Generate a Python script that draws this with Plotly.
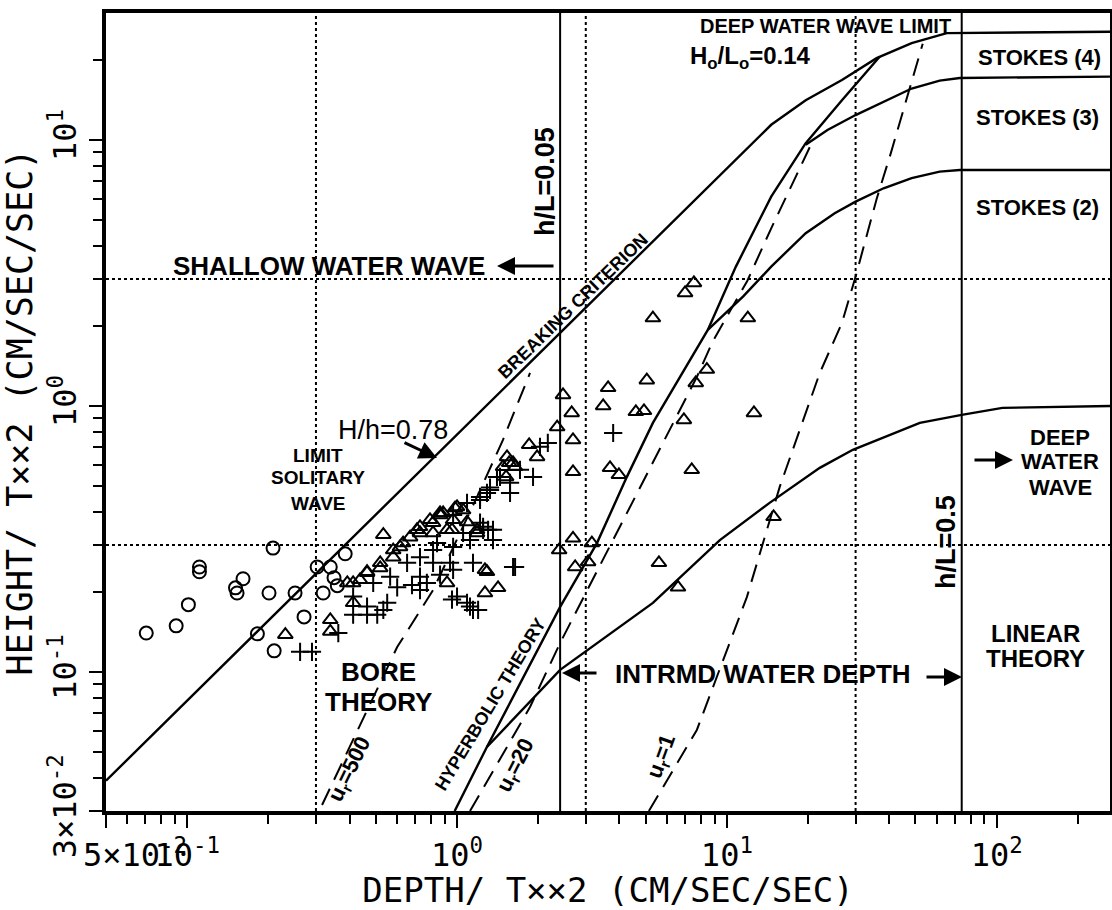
import math
import plotly.graph_objects as go

# ---------------- data ----------------
circle_x = [0.0705, 0.0910, 0.101, 0.111, 0.111, 0.151, 0.153, 0.161, 0.201, 0.208,
            0.251, 0.271, 0.182, 0.210, 0.303, 0.339, 0.385, 0.319, 0.360, 0.350]
circle_y = [0.140, 0.149, 0.179, 0.248, 0.238, 0.207, 0.198, 0.224, 0.198, 0.292,
            0.198, 0.161, 0.139, 0.120, 0.248, 0.248, 0.278, 0.198, 0.211, 0.226]

plus_x = [0.262, 0.290, 0.363, 0.412, 0.464, 0.506, 0.551, 0.600, 0.729, 1.0,
          1.089, 1.146, 1.613, 0.815, 0.942, 1.249, 1.359, 1.572, 1.291, 1.443,
          3.79, 2.17, 2.03, 1.913, 1.711, 1.325, 1.217, 1.641, 1.146, 0.958,
          1.117, 1.197, 1.303, 1.217, 1.053, 0.843, 0.729,
          1.406, 1.572, 1.325, 1.217, 1.089, 0.967, 1.249, 1.359, 1.117, 0.967,
          0.815, 0.729, 0.653, 0.565, 0.489, 0.412, 0.464, 0.533, 0.967, 0.865,
          0.773, 0.681]
plus_y = [0.119, 0.119, 0.140, 0.164, 0.164, 0.164, 0.182, 0.208, 0.203, 0.192,
          0.182, 0.171, 0.248, 0.257, 0.257, 0.342, 0.313, 0.471, 0.471, 0.541,
          0.791, 0.726, 0.702, 0.541, 0.575, 0.483, 0.443, 0.248, 0.257, 0.187,
          0.176, 0.171, 0.342, 0.364, 0.333, 0.305, 0.228,
          0.541, 0.514, 0.493, 0.455, 0.432, 0.389, 0.351, 0.342, 0.313, 0.295,
          0.287, 0.270, 0.257, 0.228, 0.216, 0.192, 0.176, 0.171, 0.242, 0.232,
          0.216, 0.212]

tri_x = [2.47, 2.66, 2.35, 2.69, 2.69, 3.63, 3.48, 5.05, 4.60, 4.93,
         8.43, 7.67, 6.93, 12.6, 3.69, 3.98, 7.41, 14.9, 2.69, 2.39,
         3.16, 3.06, 2.74, 5.60, 6.59, 1.85, 1.98, 1.56, 1.64, 1.52,
         0.983, 1.053, 0.865, 1.186, 0.958, 1.269, 0.918, 1.269, 1.419, 0.729,
         0.339, 0.231, 0.339, 0.533, 0.464, 0.519, 0.580, 0.631, 0.710, 0.815,
         0.888, 1.0, 1.186, 1.291, 0.412, 0.437, 0.392, 1.481, 1.613, 1.532,
         7.55, 7.0, 5.32, 11.96,
         0.615, 0.670, 0.729, 0.794, 0.865, 0.967, 1.089, 0.815, 0.918, 0.580,
         0.519, 0.464, 0.412]
tri_y = [1.10, 0.941, 0.833, 0.745, 0.565, 1.17, 1.0, 1.25, 0.95, 0.958,
         1.37, 1.22, 0.886, 0.941, 0.585, 0.551, 0.575, 0.383, 0.318, 0.287,
         0.305, 0.259, 0.248, 0.257, 0.208, 0.714, 0.643, 0.611, 0.590, 0.541,
         0.413, 0.406, 0.396, 0.342, 0.342, 0.242, 0.216, 0.198, 0.207, 0.333,
         0.157, 0.138, 0.142, 0.328, 0.238, 0.246, 0.287, 0.305, 0.342, 0.364,
         0.396, 0.417, 0.333, 0.238, 0.182, 0.222, 0.216, 0.590, 0.611, 0.643,
         2.90, 2.66, 2.14, 2.14,
         0.295, 0.321, 0.351, 0.373, 0.389, 0.373, 0.366, 0.333, 0.342, 0.270,
         0.257, 0.236, 0.216]

# solid theory curves
breaking_x = [0.05, 14.6, 19.6, 26.7, 35.9, 48.4, 65.3, 267]
breaking_y = [0.039, 11.4, 14.1, 16.8, 20.3, 23.1, 25.2, 25.5]

hyper_x = [0.98, 1.29, 2.41, 3.30, 4.26, 5.32, 8.5, 10.8, 14.6, 19.6, 26.7, 36.9]
hyper_y = [0.030, 0.0522, 0.1755, 0.305, 0.541, 0.863, 1.93, 3.34, 6.12, 9.72, 14.1, 20.6]

linear_x = [1.29, 2.41, 5.32, 9.42, 14.4, 22.1, 29.3, 51.9, 74.2, 105, 267]
linear_y = [0.0522, 0.1018, 0.1817, 0.313, 0.432, 0.585, 0.684, 0.863, 0.925, 0.983, 1.0]

stokes23_x = [8.5, 11.5, 14.6, 19.6, 25.1, 30.0, 38.1, 48.4, 61.5, 73, 267]
stokes23_y = [1.93, 2.58, 3.34, 4.46, 5.30, 5.86, 6.58, 7.18, 7.60, 7.71, 7.71]

stokes34_x = [19.6, 23.6, 30.0, 38.1, 48.4, 61.5, 73, 267]
stokes34_y = [9.6, 10.9, 12.4, 13.9, 15.6, 16.7, 17.1, 17.3]

# dashed Ursell-number lines
ur500_x = [0.316, 0.600, 0.815, 1.186, 1.48, 1.864]
ur500_y = [0.0316, 0.124, 0.203, 0.455, 0.745, 1.33]

ur20_x = [1.117, 1.864, 2.41, 3.47, 5.32, 7.74, 8.87, 11.9, 14.6, 18.5, 20.5]
ur20_y = [0.030, 0.0738, 0.1285, 0.264, 0.61, 1.285, 1.75, 2.95, 4.65, 7.7, 9.6]

ur1_x = [5.14, 7.74, 11.86, 15.7, 22.1, 26.7, 30.1, 35.9, 40.5, 47.2, 53.2]
ur1_y = [0.030, 0.0605, 0.191, 0.496, 1.33, 2.05, 3.1, 6.0, 8.9, 15.0, 23.0]

# reference lines
hL005_x = [2.41, 2.41]
hL05_x = [74.2, 74.2]
grid_x = [0.3, 3, 30]
grid_y = [0.3, 3]
full_y = [0.03, 30]
full_x = [0.05, 267]

NB = "\u00a0"
x_tickvals = [0.05, 0.1, 1, 10, 100]
x_ticktext = [NB * 3 + "5×10<sup>-2</sup>", "10<sup>-1</sup>", "10<sup>0</sup>",
              "10<sup>1</sup>", "10<sup>2</sup>"]
x_minor = [0.06, 0.07, 0.08, 0.09, 0.2, 0.3, 0.4, 0.5, 0.6, 0.7, 0.8, 0.9,
           2, 3, 4, 5, 6, 7, 8, 9, 20, 30, 40, 50, 60, 70, 80, 90, 200]
y_tickvals = [0.03, 0.1, 1, 10]
y_ticktext = ["3×10<sup>-2</sup>", "10<sup>-1</sup>", "10<sup>0</sup>", "10<sup>1</sup>"]
y_minor = [0.04, 0.05, 0.06, 0.07, 0.08, 0.09, 0.2, 0.3, 0.4, 0.5, 0.6, 0.7, 0.8, 0.9,
           2, 3, 4, 5, 6, 7, 8, 9, 20]

# ---------------- figure ----------------
W, H = 1112, 910
ML, MR, MT, MB = 106, 2, 13, 99
PW, PH = W - ML - MR, H - MT - MB

def P(px, py):
    return (px - ML) / PW, (MT + PH - py) / PH

fig = go.Figure()

def line(xs, ys, dash="solid", width=2.4):
    fig.add_trace(go.Scatter(x=xs, y=ys, mode="lines",
                             line=dict(color="black", width=width, dash=dash),
                             hoverinfo="skip", showlegend=False))

for gx in grid_x:
    line([gx, gx], full_y, dash="dot", width=2)
for gy in grid_y:
    line(full_x, [gy, gy], dash="dot", width=2)
line(hL005_x, full_y, width=2)
line(hL05_x, full_y, width=2)

line(breaking_x, breaking_y)
line(hyper_x, hyper_y)
line(linear_x, linear_y)
line(stokes23_x, stokes23_y)
line(stokes34_x, stokes34_y)
line(ur500_x, ur500_y, dash="18px,10px", width=2)
line(ur20_x, ur20_y, dash="18px,10px", width=2)
line(ur1_x, ur1_y, dash="18px,10px", width=2)

mk = dict(color="black", size=13, line=dict(color="black", width=2))
fig.add_trace(go.Scatter(x=circle_x, y=circle_y, mode="markers", showlegend=False,
                         marker=dict(symbol="circle-open", **mk)))
fig.add_trace(go.Scatter(x=tri_x, y=tri_y, mode="markers", showlegend=False,
                         marker=dict(symbol="triangle-up-open", **mk)))
fig.add_trace(go.Scatter(x=plus_x, y=plus_y, mode="markers", showlegend=False,
                         marker=dict(symbol="cross-thin-open", **mk)))

LAB = "Liberation Sans"
def label(text, px, py, size, angle=0, bold=True):
    x, y = P(px, py)
    fig.add_annotation(x=x, y=y, xref="paper", yref="paper", text=text, showarrow=False,
                       textangle=angle, xanchor="center", yanchor="middle",
                       font=dict(family=LAB, size=size, color="black",
                                 weight="bold" if bold else "normal"))

def arrow(hx, hy, tx, ty):
    x, y = P(hx, hy)
    fig.add_annotation(x=x, y=y, xref="paper", yref="paper", text="", showarrow=True,
                       ax=tx - hx, ay=ty - hy, arrowhead=2, arrowsize=1.2,
                       arrowwidth=3, arrowcolor="black")

label("SHALLOW WATER WAVE", 329, 266, 26)
arrow(497, 266, 555, 266)
label("h/L=0.05", 545, 182, 27, angle=-90)
label("BREAKING CRITERION", 573, 306, 18, angle=-44)
label("H/h=0.78", 393, 430, 27, bold=False)
arrow(437, 458, 403, 442)
label("LIMIT", 318, 455, 19)
label("SOLITARY", 318, 478, 19)
label("WAVE", 318, 503, 19)
label("BORE", 378, 672, 26)
label("THEORY", 378, 702, 26)
label("u<sub>r</sub>=500", 350, 770, 22, angle=-64)
label("HYPERBOLIC THEORY", 490, 705, 18, angle=-59)
label("u<sub>r</sub>=20", 516, 766, 22, angle=-63)
label("u<sub>r</sub>=1", 662, 757, 22, angle=-70)
label("INTRMD WATER DEPTH", 763, 674, 26)
arrow(562, 673, 598, 673)
arrow(962, 677, 925, 677)
label("DEEP", 1060, 437, 22)
label("WATER", 1060, 462, 22)
label("WAVE", 1060, 487, 22)
arrow(1013, 460, 973, 460)
label("h/L=0.5", 946, 542, 27, angle=-90)
label("LINEAR", 1035, 633, 24)
label("THEORY", 1035, 658, 24)
label("STOKES (4)", 1039, 57, 22)
label("STOKES (3)", 1037, 118, 22)
label("STOKES (2)", 1037, 207, 22)
label("DEEP WATER WAVE LIMIT", 825, 26, 20)
label("H<sub>o</sub>/L<sub>o</sub>=0.14", 750, 58, 24)

AX = "DejaVu Sans Mono"
axis_common = dict(type="log", showgrid=False, zeroline=False, showline=True,
                   linecolor="black", linewidth=4, mirror=True,
                   ticks="outside", ticklen=13, tickwidth=2, tickcolor="black",
                   tickfont=dict(family=AX, size=32, color="black"))

fig.update_layout(
    width=W, height=H, margin=dict(l=ML, r=MR, t=MT, b=MB, autoexpand=False),
    paper_bgcolor="white", plot_bgcolor="white",
    xaxis=dict(range=[math.log10(0.05), 2.42], tickmode="array",
               tickvals=x_tickvals, ticktext=x_ticktext, tickangle=0,
               minor=dict(tickmode="array", tickvals=x_minor, ticks="outside",
                          ticklen=9, tickwidth=2, tickcolor="black"),
               title=dict(text="DEPTH/ T××2 (CM/SEC/SEC)", standoff=8,
                          font=dict(family=AX, size=34, color="black")),
               **axis_common),
    yaxis=dict(range=[math.log10(0.03), math.log10(30)], tickmode="array",
               tickvals=y_tickvals, ticktext=y_ticktext, tickangle=-90,
               minor=dict(tickmode="array", tickvals=y_minor, ticks="outside",
                          ticklen=9, tickwidth=2, tickcolor="black"),
               title=dict(text="HEIGHT/ T××2 (CM/SEC/SEC)", standoff=2,
                          font=dict(family=AX, size=35, color="black")),
               **axis_common),
)

fig.write_html("out.html")
